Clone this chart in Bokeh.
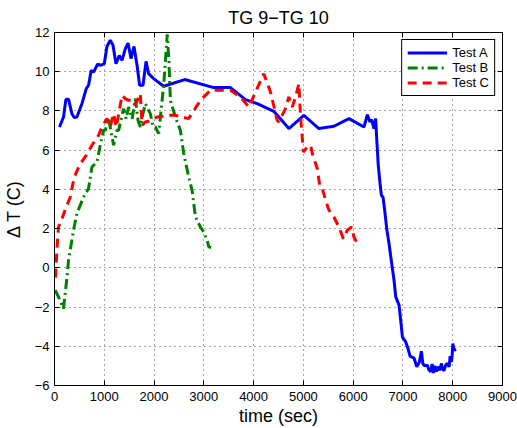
from bokeh.plotting import figure
from bokeh.models import Range1d, LinearAxis, FixedTicker, Legend, LegendItem
from bokeh.embed import file_html
from bokeh.resources import INLINE

FONT = "Liberation Sans"

title_text = "TG 9\u2212TG 10"
x_label = "time (sec)"
y_label = "\u0394 T (C)"
x_ticks = [0, 1000, 2000, 3000, 4000, 5000, 6000, 7000, 8000, 9000]
y_ticks = [-6, -4, -2, 0, 2, 4, 6, 8, 10, 12]
series_names = ["Test A", "Test B", "Test C"]

tA = [100, 181, 229, 282, 350, 396, 450, 551, 638, 684,
      738, 785, 865, 934, 1000, 1054, 1121, 1175, 1235, 1302,
      1356, 1423, 1477, 1537, 1597, 1658, 1710, 1778, 1839, 1891,
      1992, 2193, 2616, 3199, 3535, 3837, 4072, 4406, 4708, 5010,
      5312, 5614, 5916, 6217, 6285, 6338, 6372, 6418, 6452, 6475,
      6505, 6540, 6567, 6600, 6630, 6674, 6720, 6770, 6821, 6855,
      6922, 6960, 6989, 7022, 7056, 7100, 7143, 7223, 7277, 7330,
      7371, 7400, 7440, 7492, 7520, 7559, 7585, 7610, 7640, 7670,
      7693, 7734, 7774, 7800, 7827, 7860, 7895, 7928, 7948, 7976,
      7990, 8002, 8028, 8068]
vA = [7.18, 7.69, 8.59, 8.59, 7.86, 7.66, 7.69, 8.37, 9.14, 9.31,
      10.07, 9.98, 10.38, 10.33, 10.41, 11.29, 11.6, 11.35, 10.41, 10.83,
      10.58, 11.18, 11.46, 10.67, 11.29, 10.33, 9.31, 9.31, 10.53, 9.9,
      9.65, 9.26, 9.6, 9.19, 9.19, 8.58, 8.37, 7.98, 7.1, 7.78,
      7.1, 7.22, 7.61, 7.18, 7.81, 7.44, 7.56, 7.1, 7.61, 6.5,
      5.2, 4.3, 3.7, 3.6, 3.0, 2.0, 1.24, 0.3, -0.63, -1.48,
      -1.9, -2.8, -3.52, -3.65, -3.78, -4.1, -4.5, -4.6, -5.05, -4.8,
      -4.25, -4.9, -5.0, -4.96, -5.2, -5.3, -4.9, -5.36, -5.0, -5.3,
      -5.05, -5.22, -4.88, -5.2, -5.22, -4.95, -4.88, -5.05, -4.5, -4.8,
      -4.4, -3.86, -4.2, -4.16]

tB = [14, 80, 181, 248, 282, 382, 450, 584, 684, 752,
      853, 919, 986, 1020, 1087, 1187, 1255, 1288, 1388, 1440,
      1489, 1560, 1624, 1680, 1724, 1780, 1825, 1925, 1980, 2026,
      2093, 2127, 2193, 2265, 2300, 2328, 2428, 2529, 2596, 2696,
      2764, 2831, 2931, 2998, 3066, 3099, 3146]
vB = [-1.14, -1.48, -2.08, -0.55, 0.39, 1.92, 2.77, 3.61, 4.04, 5.14,
      5.4, 6.25, 7.01, 7.01, 7.61, 6.25, 7.01, 7.01, 8.12, 7.6,
      8.2, 7.6, 8.63, 7.5, 7.18, 7.9, 8.37, 7.86, 7.2, 7.18,
      6.84, 7.69, 9.3, 11.9, 10.5, 8.54, 7.69, 7.01, 5.83, 4.63,
      3.96, 2.6, 2.08, 1.83, 1.41, 1.07, 1.03]

tC = [20, 50, 80, 149, 215, 316, 396, 517, 638, 752,
      885, 953, 1054, 1120, 1187, 1241, 1300, 1356, 1420, 1489,
      1557, 1620, 1724, 1758, 1825, 1925, 2060, 2193, 2294, 2428,
      2550, 2696, 2931, 3133, 3535, 3736, 3903, 4205, 4339, 4474,
      4507, 4641, 4708, 4776, 4843, 4909, 4943, 4977, 4998, 5078,
      5145, 5179, 5245, 5279, 5332, 5380, 5447, 5513, 5614, 5714,
      5802, 5883, 5969, 6016, 6084]
vC = [-0.5, 1.0, 2.08, 2.5, 2.97, 3.6, 4.63, 5.31, 5.74, 6.25,
      6.76, 7.18, 7.61, 7.2, 7.86, 7.18, 8.0, 8.8, 8.63, 8.54,
      8.54, 8.3, 8.88, 7.27, 7.44, 7.5, 7.69, 7.73, 7.78, 7.78,
      7.7, 7.61, 8.54, 9.05, 9.05, 8.71, 8.2, 9.9, 8.97, 7.52,
      7.44, 8.12, 8.71, 8.2, 8.71, 9.39, 7.69, 6.67, 5.91, 6.16,
      6.25, 5.83, 5.32, 5.06, 4.12, 4.04, 3.45, 2.94, 2.59, 2.08,
      1.49, 1.92, 2.08, 1.57, 1.24]


def fmt(v):
    return ("\u2212%d" % -v) if v < 0 else "%d" % v


p = figure(width=517, height=428, output_backend="svg", toolbar_location=None,
           x_range=Range1d(0, 9000), y_range=Range1d(-6, 12),
           min_border_left=54, min_border_right=15, min_border_top=32,
           min_border_bottom=42)
p.title.text = title_text
p.title.align = "center"
p.title.text_font = FONT
p.title.text_font_size = "18px"
p.title.text_font_style = "normal"
p.title.text_color = "black"

p.outline_line_color = "black"
p.outline_line_width = 1
p.outline_line_alpha = 1
p.background_fill_color = "white"
p.border_fill_color = "white"

bottom_axis = p.below[0]
left_axis = p.left[0]
top_axis = LinearAxis()
right_axis = LinearAxis()
p.add_layout(top_axis, "above")
p.add_layout(right_axis, "right")

for ax in [bottom_axis, top_axis]:
    ax.ticker = FixedTicker(ticks=x_ticks)
for ax in [left_axis, right_axis]:
    ax.ticker = FixedTicker(ticks=y_ticks)
bottom_axis.major_label_overrides = {v: fmt(v) for v in x_ticks}
left_axis.major_label_overrides = {v: fmt(v) for v in y_ticks}
top_axis.major_label_overrides = {v: "" for v in x_ticks}
right_axis.major_label_overrides = {v: "" for v in y_ticks}

for ax in [bottom_axis, left_axis, top_axis, right_axis]:
    ax.major_tick_in = 5
    ax.major_tick_out = 0
    ax.minor_tick_in = 0
    ax.minor_tick_out = 0
    ax.axis_line_color = "black"
    ax.major_tick_line_color = "black"
    ax.major_label_text_font = FONT
    ax.major_label_text_font_size = "13px"
    ax.major_label_text_color = "black"
    ax.axis_label_text_font = FONT
    ax.axis_label_text_font_size = "18px"
    ax.axis_label_text_font_style = "normal"
    ax.axis_label_text_color = "black"

for ax in [top_axis, right_axis]:
    ax.major_label_standoff = 0

bottom_axis.axis_label = x_label
left_axis.axis_label = y_label
bottom_axis.major_label_standoff = 6
bottom_axis.axis_label_standoff = 2
left_axis.major_label_standoff = 5
left_axis.axis_label_standoff = 8

p.xgrid.ticker = FixedTicker(ticks=x_ticks)
p.ygrid.ticker = FixedTicker(ticks=y_ticks)
for g in [p.xgrid, p.ygrid]:
    g.grid_line_color = "black"
    g.grid_line_dash = "1 4"
    g.grid_line_alpha = 0.7
    g.grid_line_width = 1

rA = p.line(tA, vA, line_color="#0000ff", line_width=3)
rB = p.line(tB, vB, line_color="#008000", line_width=3, line_dash="10 4 2 4")
rC = p.line(tC, vC, line_color="#ff0000", line_width=3, line_dash="9 6")

legend = Legend(items=[LegendItem(label=series_names[0], renderers=[rA]),
                       LegendItem(label=series_names[1], renderers=[rB]),
                       LegendItem(label=series_names[2], renderers=[rC])],
                location="top_right")
legend.border_line_color = "black"
legend.border_line_width = 1
legend.border_line_alpha = 1
legend.background_fill_color = "white"
legend.background_fill_alpha = 1
legend.label_text_font = FONT
legend.label_text_font_size = "13px"
legend.label_text_color = "black"
legend.glyph_width = 40
legend.glyph_height = 15
legend.label_height = 15
legend.label_standoff = 5
legend.spacing = 0
legend.padding = 5
legend.margin = 7
p.add_layout(legend)

open("out.html", "w").write(file_html(p, INLINE))
